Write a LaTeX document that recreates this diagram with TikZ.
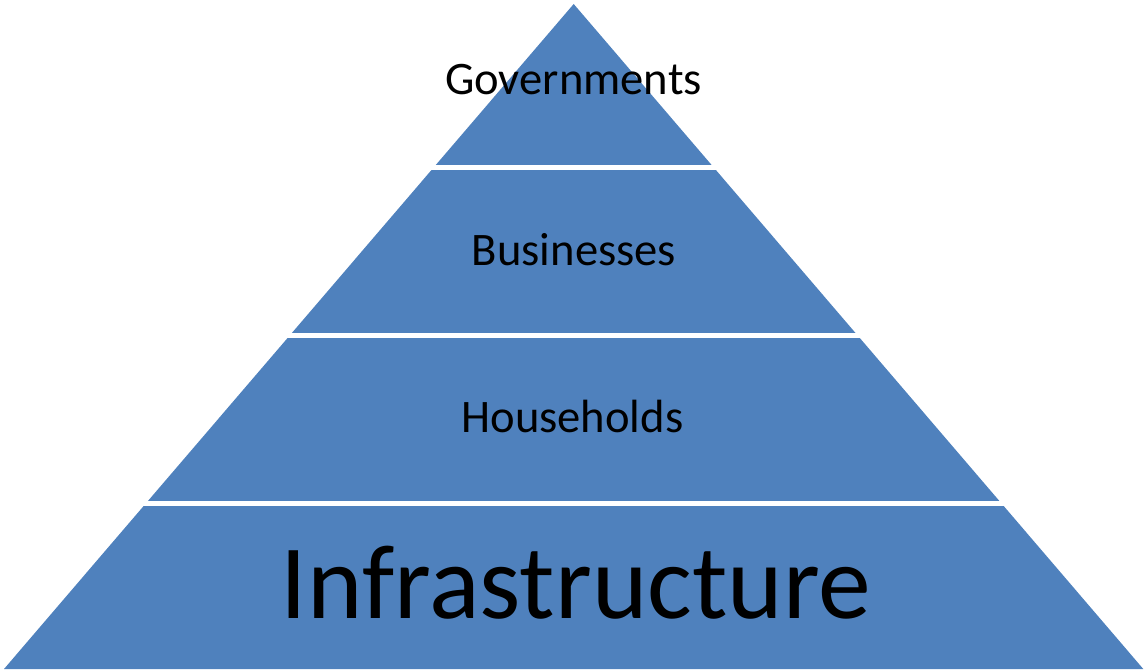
\documentclass[tikz,border=0pt]{standalone}
\usepackage{fontspec}
\setmainfont{Carlito}
\definecolor{pyrblue}{RGB}{79,129,189}
\begin{document}
\begin{tikzpicture}[x=1pt, y=-1pt, tierfill/.style={fill=pyrblue}, tiergap/.style={draw=white, line width=5.5pt}, tiertext/.style={anchor=base, inner sep=0pt, font=\fontsize{46.6}{50}\selectfont}]
\useasboundingbox (0,0) rectangle (1145,671);

\fill[tierfill] (573.7,4) -- (4,669) -- (1143.3,669) -- cycle;

\draw[tiergap] (0,167.5) -- (1145,167.5);
\draw[tiergap] (0,335.5) -- (1145,335.5);
\draw[tiergap] (0,503.7) -- (1145,503.7);

\node[tiertext] (gov) at (573.5,95) {Governments};
\node[tiertext] (bus) at (574,265) {Businesses};
\node[tiertext] (hh) at (572.4,432.3) {Households};
\node[tiertext, font=\fontsize{105.6}{110}\selectfont] (infra) at (576,618) {Infrastructure};

\end{tikzpicture}
\end{document}
